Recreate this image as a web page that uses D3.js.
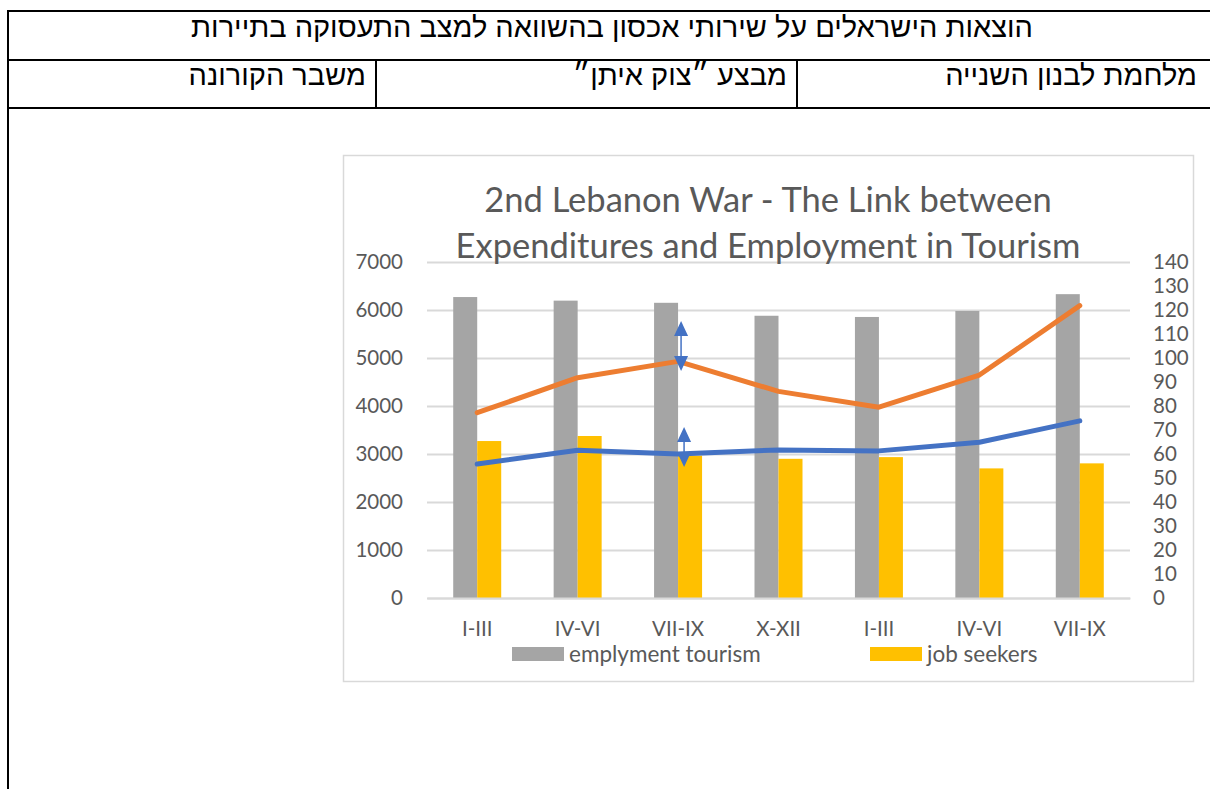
<!DOCTYPE html>
<html lang="he">
  <head>
    <meta charset="UTF-8" />
    <title>2nd Lebanon War - tourism</title>
    <script src="https://d3js.org/d3.v7.min.js"></script>
    <style>
      body { margin: 0; background: #fff; }
      svg text { font-family: Lato, "Open Sans", sans-serif; }
      .heb { font-family: "Liberation Sans", "DejaVu Sans", sans-serif; fill: #000; }
    </style>
  </head>
  <body>
    <svg width="1210" height="789"></svg>
    <script>
      // table texts
      const tableTitle = "הוצאות הישראלים על שירותי אכסון בהשוואה למצב התעסוקה בתיירות";
      const tableCells = ["משבר הקורונה", "מבצע ״צוק איתן״", "מלחמת לבנון השנייה"];

      // chart data
      const categories = ["I-III", "IV-VI", "VII-IX", "X-XII", "I-III", "IV-VI", "VII-IX"];
      const employment = [6270, 6195, 6150, 5880, 5855, 5980, 6330];
      const jobSeekers = [3270, 3375, 2965, 2900, 2935, 2700, 2805];
      const orangeLine = [77.2, 91.8, 98.6, 86.1, 79.5, 92.9, 121.8];
      const blueLine = [55.8, 61.6, 60.0, 61.7, 61.3, 64.9, 73.8];
      const leftTicks = [0, 1000, 2000, 3000, 4000, 5000, 6000, 7000];
      const rightTicks = [0, 10, 20, 30, 40, 50, 60, 70, 80, 90, 100, 110, 120, 130, 140];
      // double arrows drawn at VII-IX (right axis units: top tip, bottom tip)
      const arrows = [[115.4, 94.6], [71.3, 54.6]];

      const svg = d3.select("svg");

      // ---- table frame ----
      const tbl = svg.append("g");
      const line = (x1, y1, x2, y2) =>
        tbl.append("line").attr("x1", x1).attr("y1", y1).attr("x2", x2).attr("y2", y2)
          .attr("stroke", "#000").attr("stroke-width", 2);
      line(8, 11, 1210, 11);
      line(8, 60, 1210, 60);
      line(8, 108, 1210, 108);
      line(8, 10, 8, 789);
      line(376, 60, 376, 108);
      line(797, 60, 797, 108);

      tbl.append("text").attr("class", "heb")
        .attr("x", 612).attr("y", 37)
        .attr("text-anchor", "middle")
        .style("font-size", "29px")
        .text(tableTitle);

      const cellRight = [366, 787, 1197];
      tbl.selectAll(".cell").data(tableCells).enter().append("text")
        .attr("class", "heb")
        .attr("x", (d, i) => cellRight[i]).attr("y", 85)
        .attr("text-anchor", "end")
        .style("font-size", "29px")
        .text(d => d);

      // ---- chart box ----
      svg.append("rect")
        .attr("x", 343.5).attr("y", 155.5).attr("width", 850).attr("height", 526)
        .attr("fill", "#fff").attr("stroke", "#d9d9d9").attr("stroke-width", 1.5);

      const plot = { left: 427, right: 1130, top: 262, bottom: 598 };

      const x = d3.scaleBand()
        .domain(d3.range(categories.length))
        .range([plot.left, plot.right]);
      const yL = d3.scaleLinear().domain([0, 7000]).range([plot.bottom, plot.top]);
      const yR = d3.scaleLinear().domain([0, 140]).range([plot.bottom, plot.top]);

      // gridlines
      svg.append("g")
        .attr("transform", `translate(${plot.left},0)`)
        .call(d3.axisLeft(yL).tickValues(leftTicks).tickSize(-(plot.right - plot.left)).tickFormat(""))
        .call(g => g.select(".domain").remove())
        .call(g => g.selectAll("line").attr("stroke", "#d9d9d9").attr("stroke-width", 2));

      // left axis labels
      svg.append("g")
        .attr("transform", `translate(${plot.left - 24},0)`)
        .call(d3.axisLeft(yL).tickValues(leftTicks).tickSize(0).tickPadding(0).tickFormat(d3.format("d")))
        .call(g => g.select(".domain").remove())
        .call(g => g.selectAll("text").attr("fill", "#595959").style("font-size", "20.5px"));

      // right axis labels
      svg.append("g")
        .attr("transform", `translate(${plot.right + 23},0)`)
        .call(d3.axisRight(yR).tickValues(rightTicks).tickSize(0).tickPadding(0))
        .call(g => g.select(".domain").remove())
        .call(g => g.selectAll("text").attr("fill", "#595959").style("font-size", "20.5px"));

      // bars
      const bw = 24;
      svg.append("g").selectAll("rect").data(employment).enter().append("rect")
        .attr("x", (d, i) => x(i) + x.bandwidth() / 2 - bw)
        .attr("y", d => yL(d))
        .attr("width", bw)
        .attr("height", d => yL(0) - yL(d))
        .attr("fill", "#a5a5a5");
      svg.append("g").selectAll("rect").data(jobSeekers).enter().append("rect")
        .attr("x", (d, i) => x(i) + x.bandwidth() / 2)
        .attr("y", d => yL(d))
        .attr("width", bw)
        .attr("height", d => yL(0) - yL(d))
        .attr("fill", "#ffc000");

      // bottom axis
      svg.append("g")
        .attr("transform", `translate(0,${plot.bottom})`)
        .call(d3.axisBottom(x).tickSize(0).tickPadding(23).tickFormat(i => categories[i]))
        .call(g => g.select(".domain").attr("stroke", "#d9d9d9").attr("stroke-width", 2))
        .call(g => g.selectAll("text").attr("fill", "#595959").style("font-size", "20.5px"));

      // lines
      const lineGen = d3.line()
        .x((d, i) => x(i) + x.bandwidth() / 2)
        .y(d => yR(d));
      svg.append("path").datum(orangeLine)
        .attr("d", lineGen).attr("fill", "none")
        .attr("stroke", "#ed7d31").attr("stroke-width", 5)
        .attr("stroke-linecap", "round").attr("stroke-linejoin", "round");
      svg.append("path").datum(blueLine)
        .attr("d", lineGen).attr("fill", "none")
        .attr("stroke", "#4472c4").attr("stroke-width", 5)
        .attr("stroke-linecap", "round").attr("stroke-linejoin", "round");

      // double arrows
      const ax = [x(2) + x.bandwidth() / 2 + 3, x(2) + x.bandwidth() / 2 + 6];
      const ag = svg.append("g").attr("fill", "#4472c4").attr("stroke", "#4472c4");
      arrows.forEach((a, i) => {
        const top = yR(a[0]), bot = yR(a[1]), cx = ax[i];
        ag.append("line").attr("x1", cx).attr("x2", cx)
          .attr("y1", top + 14).attr("y2", bot - 14).attr("stroke-width", 1.5);
        ag.append("path").attr("stroke", "none")
          .attr("d", `M${cx},${top} L${cx + 7},${top + 15} L${cx - 7},${top + 15} Z`);
        ag.append("path").attr("stroke", "none")
          .attr("d", `M${cx},${bot} L${cx + 7},${bot - 15} L${cx - 7},${bot - 15} Z`);
      });

      // title
      const title = svg.append("text")
        .attr("x", 768).attr("text-anchor", "middle")
        .attr("fill", "#595959").style("font-size", "34.5px");
      title.append("tspan").attr("x", 768).attr("y", 212).text("2nd Lebanon War - The Link between");
      title.append("tspan").attr("x", 768).attr("y", 258).text("Expenditures and Employment in Tourism");

      // legend
      const legend = [
        { label: "emplyment tourism", color: "#a5a5a5", x: 512 },
        { label: "job seekers", color: "#ffc000", x: 870 }
      ];
      const lg = svg.append("g").selectAll("g").data(legend).enter().append("g")
        .attr("transform", d => `translate(${d.x},647)`);
      lg.append("rect").attr("width", 52).attr("height", 14).attr("fill", d => d.color);
      lg.append("text").attr("x", 57).attr("y", 15)
        .attr("fill", "#595959").style("font-size", "22.5px")
        .text(d => d.label);
    </script>
  </body>
</html>
